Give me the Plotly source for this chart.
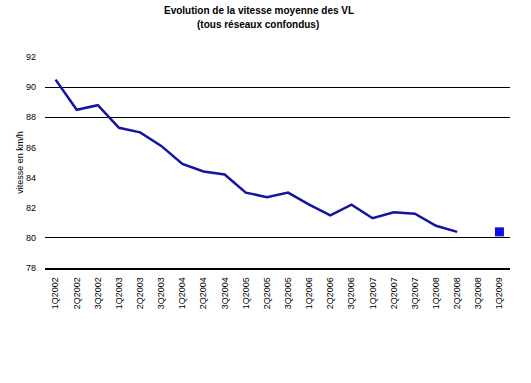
import plotly.graph_objects as go

categories = ["1Q2002", "2Q2002", "3Q2002", "1Q2003", "2Q2003", "3Q2003",
              "1Q2004", "2Q2004", "3Q2004", "1Q2005", "2Q2005", "3Q2005",
              "1Q2006", "2Q2006", "3Q2006", "1Q2007", "2Q2007", "3Q2007",
              "1Q2008", "2Q2008", "3Q2008", "1Q2009"]
vitesse = [90.5, 88.5, 88.8, 87.3, 87.0, 86.1,
           84.9, 84.4, 84.2, 83.0, 82.7, 83.0,
           82.2, 81.5, 82.2, 81.3, 81.7, 81.6,
           80.8, 80.4, None, None]
objectif = [None] * 21 + [80.4]
y_ticks = [78, 80, 82, 84, 86, 88, 90, 92]
grid_vals = [80, 88, 90, 92]
title_lines = ["Evolution de la vitesse moyenne des VL", "(tous réseaux confondus)"]

font = "Liberation Sans, Arial, sans-serif"

fig = go.Figure()
fig.add_trace(go.Scatter(x=categories, y=vitesse, mode="lines",
                         line=dict(color="#1414a0", width=2.5),
                         connectgaps=False, showlegend=False))
fig.add_trace(go.Scatter(x=categories, y=objectif, mode="markers",
                         marker=dict(symbol="square", size=9, color="#1010e0"),
                         showlegend=False))
# invisible trace carrying the gridline axis
fig.add_trace(go.Scatter(x=categories[:1], y=[None], yaxis="y2",
                         showlegend=False, hoverinfo="skip"))

fig.add_annotation(text="<b>%s</b>" % title_lines[0], xref="paper", yref="paper",
                   x=0.461, y=1.222, xanchor="center", yanchor="middle",
                   showarrow=False, font=dict(family=font, size=10, color="black"))
fig.add_annotation(text="<b>%s</b>" % title_lines[1], xref="paper", yref="paper",
                   x=0.457, y=1.156, xanchor="center", yanchor="middle",
                   showarrow=False, font=dict(family=font, size=10, color="black"))

fig.update_layout(
    width=531, height=383,
    margin=dict(l=45, r=21, t=57, b=115),
    paper_bgcolor="white", plot_bgcolor="white",
    font=dict(family=font, size=9, color="black"),
    xaxis=dict(type="category", categoryorder="array", categoryarray=categories,
               range=[-0.5, len(categories) - 0.5],
               tickangle=-90, showgrid=False, showline=True,
               linecolor="black", linewidth=1.5, ticks="",
               ticklabelstandoff=4,
               tickfont=dict(family=font, size=9, color="black")),
    yaxis=dict(range=[78, 92], tickvals=y_ticks, showgrid=False,
               zeroline=False, showline=False, ticks="",
               ticklabelstandoff=8,
               tickfont=dict(family=font, size=9, color="black"),
               title=dict(text="vitesse en km/h",
                          font=dict(family=font, size=9, color="black"),
                          standoff=0)),
    yaxis2=dict(range=[78, 92.03], tickvals=grid_vals, overlaying="y",
                showgrid=True, gridcolor="black", gridwidth=1,
                showticklabels=False, zeroline=False, layer="below traces"),
)

fig.write_html("out.html", config={"displayModeBar": False},
               post_script="document.body.style.margin='0';")
